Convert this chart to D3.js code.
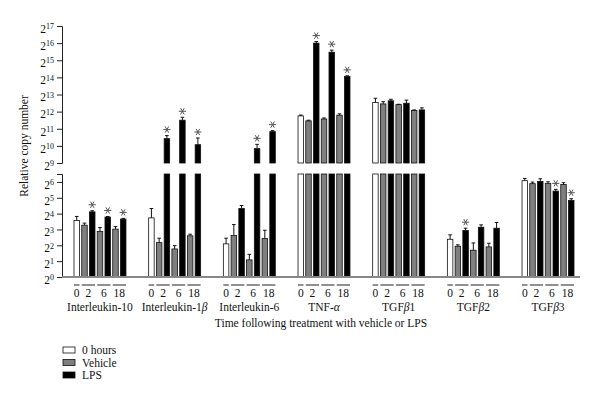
<!DOCTYPE html>
<html>
<head>
<meta charset="utf-8">
<script src="https://cdn.jsdelivr.net/npm/d3@7/dist/d3.min.js"></script>
<style>
  body { margin: 0; background: #fff; }
  text { font-family: "Liberation Serif", "DejaVu Serif", serif; fill: #111; }
</style>
</head>
<body>
<div id="chart"></div>
<script>
// data (log2 of relative copy number)
var genes = ['Interleukin-10', 'Interleukin-1β', 'Interleukin-6', 'TNF-α', 'TGFβ1', 'TGFβ2', 'TGFβ3'];
var treatments = ['0 hours', 'Vehicle', 'LPS', 'Vehicle', 'LPS', 'Vehicle', 'LPS'];
var hours = [0, 2, 2, 6, 6, 18, 18];
var timeLabels = ['0', '2', '6', '18'];
var legendItems = ['0 hours', 'Vehicle', 'LPS'];

var il10  = [3.56, 3.27, 4.11, 2.87, 3.78, 3.02, 3.65];
var il1b  = [3.73, 2.17, 10.42, 1.77, 11.5, 2.6, 10.07];
var il6   = [2.09, 2.62, 4.32, 1.08, 9.84, 2.43, 10.83];
var tnfa  = [11.75, 11.46, 16.0, 11.57, 15.47, 11.79, 14.05];
var tgfb1 = [12.53, 12.45, 12.63, 12.41, 12.49, 12.06, 12.1];
var tgfb2 = [2.38, 1.94, 2.93, 1.69, 3.14, 1.9, 3.08];
var tgfb3 = [6.08, 5.89, 6.03, 5.91, 5.42, 5.84, 4.83];

// upper error (sem, log2 units)
var il10Err  = [0.26, 0.13, 0.07, 0.25, 0.04, 0.16, 0.05];
var il1bErr  = [0.59, 0.28, 0.18, 0.21, 0.17, 0.1, 0.39];
var il6Err   = [0.36, 0.69, 0.19, 0.35, 0.25, 0.52, 0.06];
var tnfaErr  = [0.05, 0.04, 0.09, 0.06, 0.12, 0.08, 0.04];
var tgfb1Err = [0.25, 0.13, 0.09, 0.02, 0.18, 0.04, 0.12];
var tgfb2Err = [0.28, 0.09, 0.15, 0.46, 0.15, 0.23, 0.36];
var tgfb3Err = [0.14, 0.1, 0.17, 0.1, 0.11, 0.11, 0.11];

// significance stars
var il10Star  = [0, 0, 1, 0, 1, 0, 1];
var il1bStar  = [0, 0, 1, 0, 1, 0, 1];
var il6Star   = [0, 0, 0, 0, 1, 0, 1];
var tnfaStar  = [0, 0, 1, 0, 1, 0, 1];
var tgfb1Star = [0, 0, 0, 0, 0, 0, 0];
var tgfb2Star = [0, 0, 1, 0, 0, 0, 0];
var tgfb3Star = [0, 0, 0, 0, 1, 0, 1];

var allMeans = [il10, il1b, il6, tnfa, tgfb1, tgfb2, tgfb3];
var allErrs = [il10Err, il1bErr, il6Err, tnfaErr, tgfb1Err, tgfb2Err, tgfb3Err];
var allStars = [il10Star, il1bStar, il6Star, tnfaStar, tgfb1Star, tgfb2Star, tgfb3Star];

var fills = {'0 hours': '#ffffff', 'Vehicle': '#7f7f7f', 'LPS': '#000000'};

var bars = [];
genes.forEach(function(g, gi) {
    allMeans[gi].forEach(function(v, i) {
        bars.push({gene: g, idx: i, treat: treatments[i], value: v,
                   err: allErrs[gi][i], star: allStars[gi][i]});
    });
});

// svg
var svgWidth = 600, svgHeight = 403;
var svg = d3.select('#chart').append('svg')
    .attr('width', svgWidth)
    .attr('height', svgHeight);

var axisX = 62;
var baseY = 277;

// two y segments (broken axis)
var yLow = d3.scaleLinear().domain([0, 6.5]).range([baseY, 174]);
var yHigh = d3.scaleLinear().domain([9, 17]).range([163, 26]);

var x0 = d3.scaleBand().domain(genes).range([74, 574]).paddingInner(0.304);
var x1 = d3.scaleBand().domain(d3.range(7)).range([0, x0.bandwidth()]).paddingInner(0.29);

function supLabel(sel, p) {
    sel.text('');
    sel.append('tspan').text('2');
    sel.append('tspan').attr('dy', '-0.45em').attr('font-size', '8px').text(p);
}

function drawAxis(scale, ticks) {
    var g = svg.append('g')
        .attr('transform', `translate(${axisX},0)`)
        .call(d3.axisLeft(scale).tickValues(ticks).tickSize(5).tickSizeOuter(5).tickPadding(3));
    g.select('.domain').attr('stroke', '#222');
    g.selectAll('.tick line').attr('stroke', '#222');
    g.selectAll('.tick text')
        .attr('font-size', '11.5px')
        .attr('font-family', '"Liberation Serif", serif')
        .attr('fill', '#222')
        .attr('dy', '0.55em')
        .each(function(d) { supLabel(d3.select(this), d); });
}
drawAxis(yHigh, d3.range(9, 18));
drawAxis(yLow, d3.range(0, 7));

// bars
var star = d3.symbol().type(d3.symbolAsterisk).size(36);
var barG = svg.append('g');
bars.forEach(function(b) {
    var x = x0(b.gene) + x1(b.idx);
    var w = x1.bandwidth();
    var col = fills[b.treat];
    var top;
    if (b.value <= 6.5) {
        top = yLow(b.value);
        barG.append('rect').attr('x', x).attr('y', top).attr('width', w)
            .attr('height', yLow(0) - top).attr('fill', col).attr('stroke', '#111').attr('stroke-width', 0.8);
    } else {
        barG.append('rect').attr('x', x).attr('y', yLow(6.5)).attr('width', w)
            .attr('height', yLow(0) - yLow(6.5)).attr('fill', col).attr('stroke', '#111').attr('stroke-width', 0.8);
        top = yHigh(b.value);
        barG.append('rect').attr('x', x).attr('y', top).attr('width', w)
            .attr('height', yHigh(9) - top).attr('fill', col).attr('stroke', '#111').attr('stroke-width', 0.8);
    }
    var errTop = b.value <= 6.5 ? yLow(b.value + b.err) : yHigh(b.value + b.err);
    var cx = x + w / 2;
    barG.append('line').attr('x1', cx).attr('x2', cx).attr('y1', top).attr('y2', errTop)
        .attr('stroke', '#111').attr('stroke-width', 1);
    barG.append('line').attr('x1', cx - 1.8).attr('x2', cx + 1.8).attr('y1', errTop).attr('y2', errTop)
        .attr('stroke', '#111').attr('stroke-width', 1);
    if (b.star) {
        barG.append('path').attr('d', star)
            .attr('transform', `translate(${cx},${errTop - 6}) rotate(90)`)
            .attr('fill', 'none').attr('stroke', '#555').attr('stroke-width', 1);
    }
});

// baseline
svg.append('line').attr('x1', axisX).attr('x2', 580).attr('y1', baseY).attr('y2', baseY)
    .attr('stroke', '#888').attr('stroke-width', 2);

// time labels with overlines
var timeSpans = [[0, 0], [1, 2], [3, 4], [5, 6]];
genes.forEach(function(g) {
    timeLabels.forEach(function(t, ti) {
        var a = x0(g) + x1(timeSpans[ti][0]);
        var b = x0(g) + x1(timeSpans[ti][1]) + x1.bandwidth();
        svg.append('line').attr('x1', a).attr('x2', b).attr('y1', 285).attr('y2', 285)
            .attr('stroke', '#222').attr('stroke-width', 1);
        svg.append('text').attr('x', (a + b) / 2).attr('y', 297)
            .attr('text-anchor', 'middle').attr('font-size', '11.5px').text(t);
    });
    var lab = svg.append('text').attr('x', x0(g) + x0.bandwidth() / 2).attr('y', 311)
        .attr('text-anchor', 'middle').attr('font-size', '11.5px');
    g.split(/([αβ])/).forEach(function(part) {
        if (!part) return;
        var ts = lab.append('tspan').text(part);
        if (part === 'α' || part === 'β') ts.attr('font-style', 'italic');
    });
});

svg.append('text').attr('x', 321).attr('y', 327).attr('text-anchor', 'middle')
    .attr('font-size', '11.5px').text('Time following treatment with vehicle or LPS');

svg.append('text')
    .attr('transform', 'rotate(-90)')
    .attr('x', -146).attr('y', 28)
    .attr('text-anchor', 'middle').attr('font-size', '11.5px')
    .text('Relative copy number');

// legend
var legend = svg.append('g').attr('transform', 'translate(63,347)');
legendItems.forEach(function(l, i) {
    legend.append('rect').attr('x', 0).attr('y', i * 12.5).attr('width', 12).attr('height', 6)
        .attr('fill', fills[l]).attr('stroke', '#111').attr('stroke-width', 0.8);
    legend.append('text').attr('x', 19).attr('y', i * 12.5 + 7)
        .attr('font-size', '11.5px').text(l);
});
</script>
</body>
</html>
